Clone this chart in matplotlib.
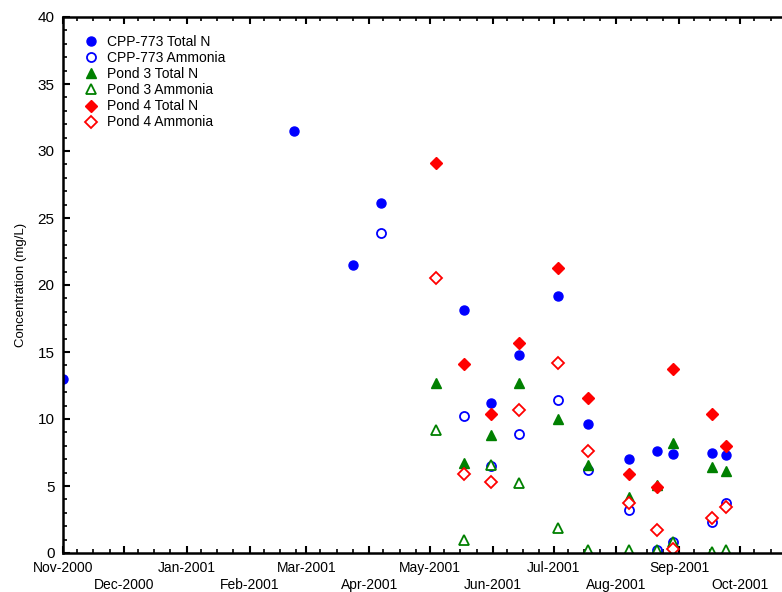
import matplotlib
matplotlib.use("Agg")
import matplotlib.pyplot as plt
import matplotlib.dates as mdates
from matplotlib.ticker import MultipleLocator, FuncFormatter
import numpy as np
import datetime as dt

plt.rcParams['font.family'] = ['Liberation Sans', 'DejaVu Sans']

# ---- data ----
cpp_total_dates = ["2000-11-01", "2001-02-23", "2001-03-24", "2001-04-07", "2001-05-18",
                   "2001-05-31", "2001-06-14", "2001-07-03", "2001-07-18", "2001-08-07",
                   "2001-08-21", "2001-08-29", "2001-09-17", "2001-09-24"]
cpp_total = [13.0, 31.5, 21.5, 26.1, 18.1, 11.2, 14.8, 19.2, 9.6, 7.0, 7.6, 7.4, 7.5, 7.3]

cpp_amm_dates = ["2001-04-07", "2001-05-18", "2001-05-31", "2001-06-14", "2001-07-03",
                 "2001-07-18", "2001-08-07", "2001-08-21", "2001-08-29", "2001-09-17",
                 "2001-09-24"]
cpp_amm = [23.9, 10.2, 6.5, 8.9, 11.4, 6.2, 3.2, 0.25, 0.8, 2.3, 3.7]

p3_dates = ["2001-05-04", "2001-05-18", "2001-05-31", "2001-06-14", "2001-07-03",
            "2001-07-18", "2001-08-07", "2001-08-21", "2001-08-29", "2001-09-17",
            "2001-09-24"]
p3_total = [12.7, 6.7, 8.8, 12.7, 10.0, 6.6, 4.2, 5.1, 8.2, 6.4, 6.1]
p3_amm = [9.2, 1.0, 6.6, 5.2, 1.9, 0.25, 0.2, 0.2, 0.8, 0.1, 0.2]

p4_dates = p3_dates
p4_total = [29.1, 14.1, 10.4, 15.7, 21.3, 11.6, 5.9, 4.9, 13.7, 10.4, 8.0]
p4_amm = [20.5, 5.9, 5.3, 10.7, 14.2, 7.6, 3.7, 1.7, 0.3, 2.6, 3.4]

tick_months = ["Nov-2000", "Dec-2000", "Jan-2001", "Feb-2001", "Mar-2001", "Apr-2001",
               "May-2001", "Jun-2001", "Jul-2001", "Aug-2001", "Sep-2001", "Oct-2001"]

def to_dates(lst):
    return [dt.datetime.strptime(s, "%Y-%m-%d") for s in lst]

fig = plt.figure(figsize=(7.82, 5.92), dpi=100)
ax = fig.add_axes([63/782, 1-553/592, (803-63)/782, (553-17)/592])

ms = 6.5
ax.plot(to_dates(cpp_total_dates), cpp_total, 'o', color='#0000ff', ms=ms, mec='#0000ff',
        label='CPP-773 Total N')
ax.plot(to_dates(cpp_amm_dates), cpp_amm, 'o', mfc='white', mec='#0000ff', mew=1.3, ms=ms,
        label='CPP-773 Ammonia')
ax.plot(to_dates(p3_dates), p3_total, '^', color='#008000', ms=ms+1, mec='#008000',
        label='Pond 3 Total N')
ax.plot(to_dates(p3_dates), p3_amm, '^', mfc='white', mec='#008000', mew=1.3, ms=ms+1,
        label='Pond 3 Ammonia')
ax.plot(to_dates(p4_dates), p4_total, 'D', color='#ff0000', ms=ms-0.5, mec='#ff0000',
        label='Pond 4 Total N')
ax.plot(to_dates(p4_dates), p4_amm, 'D', mfc='white', mec='#ff0000', mew=1.3, ms=ms-0.5,
        label='Pond 4 Ammonia')

ax.set_xlim(dt.datetime(2000, 11, 1), dt.datetime(2001, 11, 1))
ax.set_ylim(0, 40)

ax.xaxis.set_major_locator(mdates.MonthLocator())
ax.xaxis.set_minor_locator(mdates.DayLocator(bymonthday=[8, 16, 24]))

def fmt(x, pos):
    d = mdates.num2date(x)
    s = d.strftime("%b-%Y")
    if s not in tick_months:
        return ""
    idx = tick_months.index(s)
    return s if idx % 2 == 0 else "\n" + s

ax.xaxis.set_major_formatter(FuncFormatter(fmt))
ax.yaxis.set_major_locator(MultipleLocator(5))
ax.yaxis.set_minor_locator(MultipleLocator(1))

ax.tick_params(axis='both', which='major', direction='in', length=5, width=1.5,
               top=True, right=False)
ax.tick_params(axis='both', which='minor', direction='in', length=3, width=1.2,
               top=True, right=False)
ax.tick_params(axis='x', labelsize=10, pad=6)
ax.tick_params(axis='y', labelsize=11, pad=6)
for sp in ax.spines.values():
    sp.set_linewidth(1.8)

ax.set_ylabel("Concentration (mg/L)", fontsize=9.5, labelpad=8)

leg = ax.legend(loc='upper left', frameon=False, fontsize=10, handletextpad=0.4,
                labelspacing=0.15, borderaxespad=0.9, handlelength=1.5)

fig.savefig("out.png", dpi=100)
